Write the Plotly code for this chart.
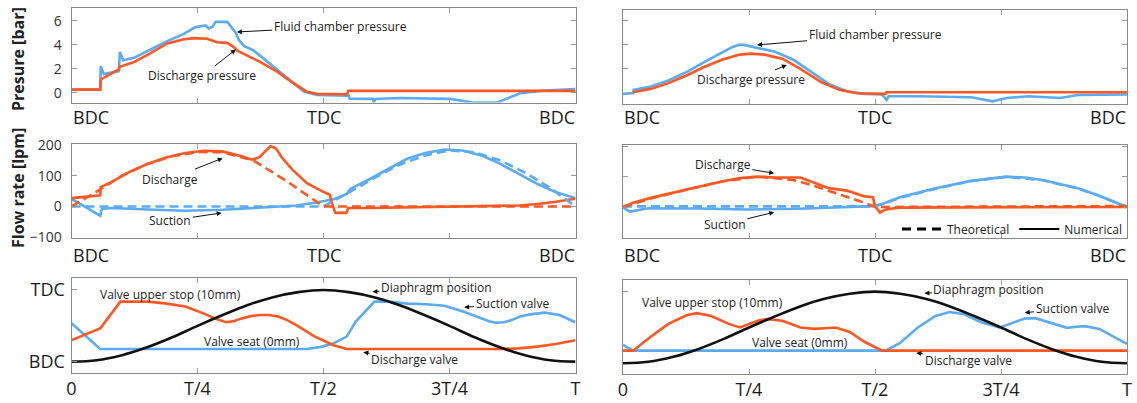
import plotly.graph_objects as go

# ---------------- DATA (x = fraction of period, 0=BDC, 0.5=TDC) ----------------
# Row 1 left: pressure [bar]
p1_fluid_x = [0, 0.057, 0.058, 0.061, 0.064, 0.094, 0.096, 0.1025, 0.124, 0.157, 0.190, 0.223, 0.245, 0.266, 0.2725,
              0.28, 0.286, 0.309, 0.319, 0.325, 0.332, 0.342, 0.362, 0.388, 0.421, 0.441, 0.461, 0.487, 0.547, 0.549,
              0.552, 0.598, 0.600, 0.603, 0.652, 0.751, 0.797, 0.844, 0.870, 0.890, 0.930, 0.983, 1.0]
p1_fluid_y = [0.27, 0.27, 2.2, 1.8, 1.55, 1.8, 3.4, 2.7, 2.9, 3.6, 4.3, 4.9, 5.45, 5.6, 5.35,
              5.5, 5.9, 5.9, 5.4, 5.05, 4.4, 3.9, 3.5, 2.6, 1.5, 0.8, 0.1, -0.2, -0.25, -0.15,
              -0.5, -0.52, -0.8, -0.52, -0.45, -0.52, -0.83, -0.83, -0.4, -0.05, 0.15, 0.28, 0.3]
p1_dis_x = [0, 0.057, 0.058, 0.094, 0.096, 0.124, 0.157, 0.190, 0.223, 0.243, 0.269, 0.289, 0.309, 0.322, 0.329,
            0.342, 0.375, 0.408, 0.441, 0.467, 0.487, 0.547, 0.549, 1.0]
p1_dis_y = [0.25, 0.25, 1.1, 1.95, 2.15, 2.55, 3.3, 4.1, 4.45, 4.55, 4.5, 4.2, 4.15, 3.8, 3.5,
            3.25, 2.55, 1.75, 0.77, 0.08, -0.1, -0.13, 0.15, 0.15]

# Row 1 right: pressure [bar]
p2_fluid_x = [0, 0.02, 0.021, 0.055, 0.09, 0.126, 0.161, 0.196, 0.2175, 0.232, 0.242, 0.267, 0.302, 0.338, 0.373,
              0.408, 0.444, 0.479, 0.514, 0.523, 0.527, 0.585, 0.691, 0.733, 0.761, 0.804, 0.867, 0.903, 1.0]
p2_fluid_y = [-0.05, 0.02, 0.28, 0.55, 1.05, 1.74, 2.56, 3.3, 3.8, 4.0, 3.95, 3.72, 3.4, 2.75, 1.74,
              0.77, 0.17, -0.05, -0.1, -0.55, -0.25, -0.25, -0.33, -0.66, -0.39, -0.25, -0.39, -0.14, -0.1]
p2_dis_x = [0.02, 0.055, 0.09, 0.126, 0.161, 0.196, 0.232, 0.253, 0.281, 0.316, 0.352, 0.394, 0.429, 0.465,
            0.521, 0.523, 1.0]
p2_dis_y = [0.08, 0.36, 0.83, 1.46, 2.15, 2.75, 3.17, 3.25, 3.17, 2.84, 2.0, 0.9, 0.28, 0.0,
            -0.05, 0.08, 0.08]

# Row 2 left: flow rate [lpm]
q1_dis_num_x = [0, 0.057, 0.058, 0.079, 0.115, 0.152, 0.189, 0.226, 0.2625, 0.299, 0.336, 0.358, 0.373, 0.395,
                0.406, 0.417, 0.439, 0.468, 0.498, 0.5125, 0.516, 0.5235, 0.5455, 0.549, 0.593, 0.74, 0.8875,
                0.924, 0.961, 1.0]
q1_dis_num_y = [27, 36, 63, 79, 112, 139, 160, 174, 181, 179, 164, 152, 160, 196,
                188, 160, 118, 75, 49, 38, 14, -21, -21, -5, -5, -2, 3,
                8, 15, 25]
q1_dis_th_x = [0, 0.05, 0.1, 0.15, 0.2, 0.25, 0.3, 0.36, 0.4, 0.43, 0.46, 0.5, 1.0]
q1_dis_th_y = [0, 48, 100, 138, 163, 177, 176, 150, 110, 79, 45, 0, 0]
q1_suc_num_x = [0, 0.057, 0.06, 0.079, 0.152, 0.226, 0.299, 0.373, 0.446, 0.483, 0.52, 0.546, 0.553, 0.593,
                0.629, 0.666, 0.702, 0.74, 0.776, 0.813, 0.85, 0.887, 0.923, 0.96, 1.0]
q1_suc_num_y = [25, -30, -8, -5, -10, -14, -11, -5, 3, 12, 23, 41, 57, 90,
                122, 155, 174, 185, 182, 166, 139, 106, 74, 47, 27]
q1_suc_th_x = [0, 0.5, 0.55, 0.6, 0.65, 0.7, 0.75, 0.8, 0.85, 0.9, 0.95, 0.985, 1.0]
q1_suc_th_y = [0, 0, 45, 92, 135, 165, 182, 176, 150, 110, 60, 18, 0]

# Row 2 right: flow rate [lpm]
q2_dis_num_x = [0, 0.02, 0.055, 0.126, 0.196, 0.232, 0.267, 0.302, 0.352, 0.373, 0.408, 0.444, 0.479, 0.496,
                0.5, 0.51, 0.521, 0.549, 1.0]
q2_dis_num_y = [0, 14, 30, 57, 84, 95, 100, 97, 97, 84, 62, 54, 35, 32,
                3, -18, -8, -2, 0]
q2_dis_th_x = [0, 0.055, 0.126, 0.196, 0.267, 0.338, 0.373, 0.408, 0.444, 0.479, 0.5, 1.0]
q2_dis_th_y = [0, 28, 57, 84, 100, 89, 73, 54, 35, 14, 0, 3]
q2_suc_num_x = [0, 0.008, 0.015, 0.05, 0.15, 0.25, 0.35, 0.408, 0.493, 0.514, 0.528, 0.549, 0.62, 0.69,
                0.761, 0.797, 0.832, 0.903, 0.938, 1.0]
q2_suc_num_y = [0, -10, -15, -4, -5, -8, -6, -2, 3, 9, 19, 32, 62, 86,
                100, 97, 89, 62, 41, 0]
q2_suc_th_x = [0, 0.5, 0.55, 0.62, 0.69, 0.76, 0.83, 0.9, 0.94, 1.0]
q2_suc_th_y = [2, 2, 30, 60, 85, 99, 89, 62, 40, 0]

# Row 3: diaphragm & valve positions (0 = BDC, 1 = TDC)
dia_x = [0, 0.05, 0.1, 0.15, 0.2, 0.25, 0.3, 0.35, 0.4, 0.45, 0.5,
         0.55, 0.6, 0.65, 0.7, 0.75, 0.8, 0.85, 0.9, 0.95, 1.0]
dia_y = [0, 0.02, 0.09, 0.2, 0.34, 0.5, 0.65, 0.79, 0.9, 0.97, 1.0,
         0.97, 0.9, 0.79, 0.65, 0.5, 0.34, 0.2, 0.09, 0.02, 0]

v1_dis_x = [0, 0.057, 0.097, 0.152, 0.189, 0.226, 0.263, 0.285, 0.307, 0.322, 0.336, 0.355, 0.373, 0.392, 0.41,
            0.428, 0.446, 0.465, 0.483, 0.52, 0.546, 0.851, 0.8875, 0.924, 0.961, 1.0]
v1_dis_y = [0.30, 0.465, 0.837, 0.837, 0.81, 0.77, 0.67, 0.60, 0.55, 0.565, 0.60, 0.635, 0.65, 0.65, 0.63,
            0.58, 0.51, 0.43, 0.35, 0.23, 0.177, 0.177, 0.186, 0.21, 0.246, 0.30]
v1_suc_x = [0, 0.057, 0.468, 0.498, 0.52, 0.546, 0.564, 0.601, 0.63, 0.667, 0.704, 0.74, 0.777, 0.814,
            0.83, 0.843, 0.858, 0.873, 0.89, 0.91, 0.939, 0.968, 1.0]
v1_suc_y = [0.535, 0.177, 0.177, 0.21, 0.256, 0.35, 0.56, 0.837, 0.837, 0.81, 0.80, 0.78, 0.70, 0.60,
            0.56, 0.544, 0.55, 0.58, 0.63, 0.66, 0.684, 0.65, 0.55]

v2_dis_x = [0, 0.02, 0.055, 0.09, 0.126, 0.147, 0.175, 0.21, 0.232, 0.253, 0.27, 0.288, 0.316, 0.352, 0.38,
            0.40, 0.422, 0.45, 0.479, 0.514, 1.0]
v2_dis_y = [0.176, 0.176, 0.37, 0.55, 0.67, 0.70, 0.66, 0.55, 0.50, 0.55, 0.60, 0.617, 0.595, 0.50, 0.48,
            0.49, 0.50, 0.437, 0.30, 0.176, 0.176]
v2_suc_x = [0, 0.02, 0.521, 0.549, 0.585, 0.62, 0.648, 0.677, 0.712, 0.747, 0.768, 0.797, 0.818, 0.853,
            0.881, 0.9, 0.917, 0.945, 0.973, 1.0]
v2_suc_y = [0.257, 0.176, 0.176, 0.28, 0.50, 0.66, 0.716, 0.685, 0.57, 0.50, 0.55, 0.626, 0.63, 0.55,
            0.495, 0.51, 0.518, 0.48, 0.37, 0.27]

x_ticks = [0, 0.25, 0.5, 0.75, 1]
x_text_dc = ["BDC", "TDC", "BDC"]
x_text_dc_pos = [0, 0.5, 1]
x_text_t = ["0", "T/4", "T/2", "3T/4", "T"]

ORANGE = "#FF5722"
BLUE = "#5AABF2"
BLACK = "#111111"
LW = 2.6

W, H = 1137, 403
def px(v):
    return v / W
def py(v):
    return 1 - v / H

fig = go.Figure()

def line(x, y, color, ax, dash=None, width=LW):
    fig.add_trace(go.Scatter(x=x, y=y, mode="lines", xaxis="x" + ax, yaxis="y" + ax,
                             line=dict(color=color, width=width, dash=dash), showlegend=False,
                             hoverinfo="skip"))

DASH = "9px,5px"
line(p1_fluid_x, p1_fluid_y, BLUE, "")
line(p1_dis_x, p1_dis_y, ORANGE, "")
line(p2_fluid_x, p2_fluid_y, BLUE, "2")
line(p2_dis_x, p2_dis_y, ORANGE, "2")
line(q1_suc_num_x, q1_suc_num_y, BLUE, "3")
line(q1_dis_num_x, q1_dis_num_y, ORANGE, "3")
line(q1_suc_th_x, q1_suc_th_y, BLUE, "3", dash=DASH)
line(q1_dis_th_x, q1_dis_th_y, ORANGE, "3", dash=DASH)
line(q2_suc_num_x, q2_suc_num_y, BLUE, "4")
line(q2_dis_num_x, q2_dis_num_y, ORANGE, "4")
line(q2_suc_th_x, q2_suc_th_y, BLUE, "4", dash=DASH)
line(q2_dis_th_x, q2_dis_th_y, ORANGE, "4", dash=DASH)
fig.add_trace(go.Scatter(x=[None], y=[None], mode="lines", name="Theoretical", xaxis="x4", yaxis="y4",
                         line=dict(color="black", width=3, dash="9px,6px")))
fig.add_trace(go.Scatter(x=[None], y=[None], mode="lines", name="Numerical", xaxis="x4", yaxis="y4",
                         line=dict(color="black", width=2)))
line(v1_suc_x, v1_suc_y, BLUE, "5")
line(v1_dis_x, v1_dis_y, ORANGE, "5")
fig.add_trace(go.Scatter(x=dia_x, y=dia_y, mode="lines", xaxis="x5", yaxis="y5", showlegend=False,
                         line=dict(color=BLACK, width=LW, shape="spline"), hoverinfo="skip"))
line(v2_suc_x, v2_suc_y, BLUE, "6")
line(v2_dis_x, v2_dis_y, ORANGE, "6")
fig.add_trace(go.Scatter(x=dia_x, y=dia_y, mode="lines", xaxis="x6", yaxis="y6", showlegend=False,
                         line=dict(color=BLACK, width=LW, shape="spline"), hoverinfo="skip"))

FONT = "Open Sans"
common = dict(showline=True, linecolor="#8a8a8a", linewidth=1, ticks="inside", ticklen=5,
              tickcolor="#9a9a9a", showgrid=False, zeroline=False, fixedrange=True, automargin=False)

colx = {"L": (px(71.5), px(575.5)), "R": (px(623), px(1127))}
rows = {
    "1L": (py(102.5), py(7.5)), "1R": (py(104), py(10)),
    "2L": (py(237.5), py(144)), "2R": (py(238), py(145)),
    "3L": (py(373), py(278)), "3R": (py(374), py(279.5)),
}
yr = {"1": [-0.82, 7.1], "2": [-0.88, 6.83], "3": [-101, 203], "4": [-102, 204],
      "5": [-0.158, 1.167], "6": [-0.15, 1.17]}
panels = [("", "1L", "L", "1"), ("2", "1R", "R", "2"), ("3", "2L", "L", "3"),
          ("4", "2R", "R", "4"), ("5", "3L", "L", "5"), ("6", "3R", "R", "6")]
lay = {}
for ax, rk, ck, key in panels:
    row = rk[0]
    xd = dict(common, domain=colx[ck], range=[0, 1], anchor="y" + ax, mirror="ticks", tickvals=x_ticks)
    if row == "3":
        xd.update(ticktext=x_text_t, ticklabelstandoff=-1,
                  tickfont=dict(family=FONT, size=18, color="#1a1a1a"))
    else:
        xd.update(showticklabels=False)
    lay["xaxis" + ax] = xd
    yd = dict(common, domain=rows[rk], range=yr[key], anchor="x" + ax, mirror="ticks")
    if row == "1":
        yd.update(tickvals=[0, 2, 4, 6])
    elif row == "2":
        yd.update(tickvals=[-100, 0, 100, 200])
    else:
        yd.update(tickvals=[0, 1], ticktext=["BDC", "TDC"], mirror=True)
    if ck == "R":
        yd.update(showticklabels=False)
        if row == "3":
            yd.update(tickvals=[1])
    if row == "3":
        yd.update(tickfont=dict(family=FONT, size=18, color="#1a1a1a"), ticklabelstandoff=2)
    else:
        yd.update(tickfont=dict(family=FONT, size=14, color="#333333"), ticklabelstandoff=6)
    lay["yaxis" + ax] = yd

for n, base in (("7", "5"), ("8", "6")):
    lay["yaxis" + n] = dict(overlaying="y" + base, side="right", anchor="x" + base, range=yr[base],
                            tickvals=[0.5, 1], ticks="inside", ticklen=5, tickcolor="#9a9a9a",
                            showticklabels=False, showline=False, showgrid=False, zeroline=False,
                            fixedrange=True, automargin=False)

fig.update_layout(**lay)

AF = dict(family=FONT, size=12, color="#222222")
ann = []
def note(text, ax, tx, ty, hx=None, hy=None):
    xr, yrf = "x" + ax, "y" + ax
    if hx is None:
        ann.append(dict(text=text, x=tx, y=ty, xref=xr, yref=yrf, xanchor="center", yanchor="middle",
                        showarrow=False, font=AF))
    else:
        ann.append(dict(text=text, x=hx, y=hy, xref=xr, yref=yrf, ax=tx, ay=ty, axref=xr, ayref=yrf,
                        showarrow=True, arrowhead=2, arrowsize=1, arrowwidth=1, arrowcolor="#111111",
                        standoff=0, startstandoff=0, font=AF))

note("Fluid chamber pressure", "", 0.533, 5.5, 0.328, 5.06)
note("Discharge pressure", "", 0.259, 1.39, 0.326, 3.6)
note("Fluid chamber pressure", "2", 0.50, 4.78, 0.266, 3.96)
note("Discharge pressure", "2", 0.254, 1.09, 0.325, 2.32)
note("Discharge", "3", 0.195, 89, 0.30, 157)
note("Suction", "3", 0.196, -46, 0.298, -21)
note("Discharge", "4", 0.198, 139, 0.30, 111)
note("Suction", "4", 0.202, -57, 0.30, -17)
note("Valve upper stop (10mm)", "5", 0.196, 0.94)
note("Diaphragm position", "5", 0.724, 1.03, 0.597, 0.976)
note("Suction valve", "5", 0.874, 0.805, 0.779, 0.759)
note("Valve seat (0mm)", "5", 0.358, 0.279)
note("Discharge valve", "5", 0.681, 0.024, 0.579, 0.13)
note("Valve upper stop (10mm)", "6", 0.177, 0.85)
note("Diaphragm position", "6", 0.726, 1.03, 0.598, 0.977)
note("Suction valve", "6", 0.891, 0.766, 0.797, 0.707)
note("Valve seat (0mm)", "6", 0.351, 0.29)
note("Discharge valve", "6", 0.685, 0.04, 0.582, 0.145)

# BDC / TDC labels under the two upper rows (edge labels kept inside the frame)
for ax, yc in (("", 117), ("2", 117), ("3", 255), ("4", 255)):
    for txt, pos in zip(x_text_dc, x_text_dc_pos):
        anchor = "left" if pos == 0 else ("right" if pos == 1 else "center")
        ann.append(dict(text=txt, x=pos, y=py(yc), xref="x" + ax, yref="paper", xanchor=anchor,
                        yanchor="middle", showarrow=False, borderpad=0,
                        font=dict(family=FONT, size=18, color="#1a1a1a")))

ann.append(dict(text="<b>Presure [bar]</b>", x=px(18), y=py(59), xref="paper", yref="paper",
                xanchor="center", yanchor="middle",
                textangle=-90, showarrow=False, font=dict(family=FONT, size=16, color="#222222")))
ann.append(dict(text="<b>Flow rate [lpm]</b>", x=px(18), y=py(188), xref="paper", yref="paper",
                xanchor="center", yanchor="middle",
                textangle=-90, showarrow=False, font=dict(family=FONT, size=16, color="#222222")))

fig.update_layout(
    annotations=ann,
    width=W, height=H, margin=dict(l=0, r=0, t=0, b=0, autoexpand=False),
    paper_bgcolor="white", plot_bgcolor="white",
    showlegend=True,
    legend=dict(orientation="h", x=px(1127), xanchor="right", y=py(229), yanchor="middle",
                bgcolor="rgba(0,0,0,0)", font=dict(family=FONT, size=12, color="#222222"),
                itemwidth=40, tracegroupgap=0),
    font=dict(family=FONT),
)

fig.write_html("out.html")
